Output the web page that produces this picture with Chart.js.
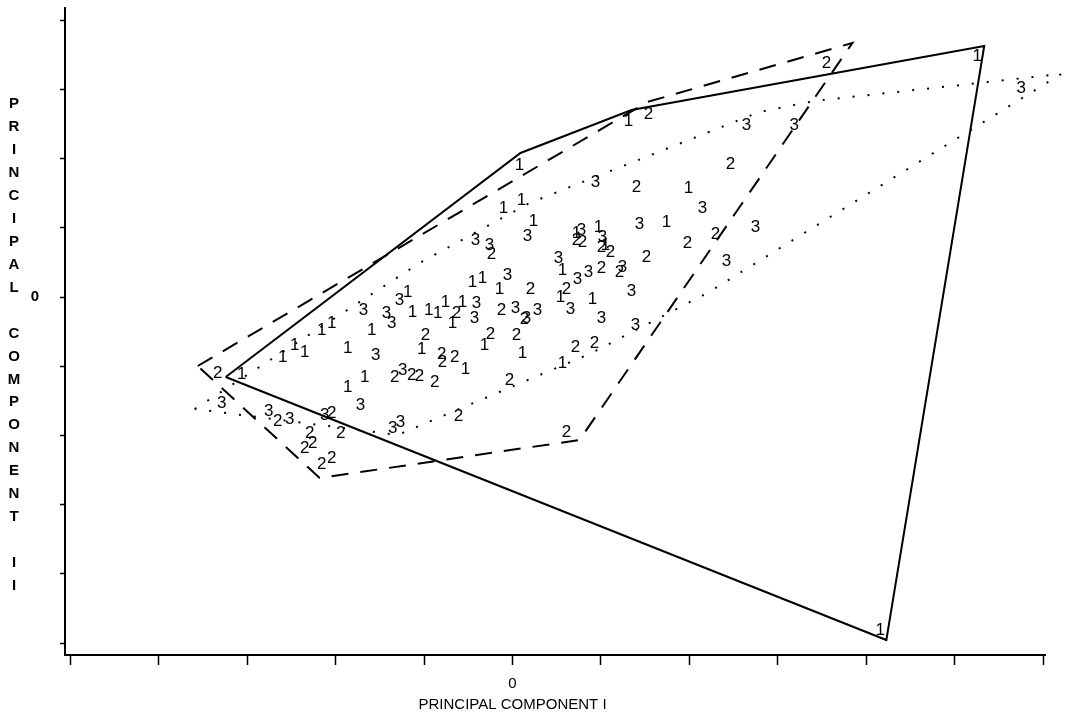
<!DOCTYPE html>
<html>
<head>
<meta charset="utf-8">
<script src="https://cdn.jsdelivr.net/npm/chart.js@4.4.1/dist/chart.umd.min.js"></script>
<style>
html,body{margin:0;padding:0;background:#fff;}
#wrap{width:1068px;height:716px;position:relative;}
</style>
</head>
<body>
<div id="wrap"><canvas id="c" width="1068" height="716"></canvas></div>
<script>
// ---- titles / tick labels ----
const xTitle = 'PRINCIPAL COMPONENT I';
const yTitle = 'PRINCIPAL COMPONENT II';
const zeroLabel = '0';
const xRange = [-5.06, 6.02];
const yRange = [-5.173, 4.176];

// ---- group 1 (marker "1") ----
const g1X = [5.254, 4.158, 1.311, 0.079, 1.989, -0.102, 0.102, 0.237, 1.740, 0.723, 0.972, 1.051, 0.565, 0.542, 0.904, -0.452, -0.339, -0.147, -0.757, -0.565, -0.678, -0.316, 0.113, 0.565, -0.531, -1.028, -1.186, -1.130, -0.949, -0.847, -1.593, -1.864, -2.158, -2.045, -2.599, -2.463, -2.350, -1.864, -1.672, -3.062];
const g1Y = [3.483, -4.812, 2.543, 1.908, 1.575, 1.286, 1.402, 1.098, 1.084, 0.925, 1.012, 0.751, 0.390, 0.000, -0.029, 0.217, 0.275, 0.116, -0.072, -0.072, -0.376, -0.694, -0.809, -0.954, -1.040, -0.751, 0.072, -0.217, -0.188, -0.231, -0.477, -0.737, -0.477, -0.376, -0.867, -0.694, -0.795, -1.301, -1.156, -1.113];

// ---- group 2 (marker "2") ----
const g2X = [3.548, 1.537, 2.463, 1.401, 2.294, 1.977, 1.514, 0.723, 0.791, 1.006, 1.107, 1.006, 1.209, 0.610, 0.203, -0.124, 0.136, -0.237, -0.633, -0.249, 0.045, 0.712, 0.927, -0.983, -0.802, -0.791, -0.655, -1.333, -1.141, -1.051, -0.881, -0.034, -0.610, 0.610, -3.333, -2.655, -2.045, -1.944, -2.294, -2.260, -2.350, -2.158, -2.045];
const g2Y = [3.382, 2.645, 1.922, 1.590, 0.910, 0.780, 0.578, 0.824, 0.795, 0.723, 0.650, 0.419, 0.361, 0.116, 0.116, -0.188, -0.318, 0.621, -0.231, -0.535, -0.549, -0.723, -0.665, -0.549, -0.824, -0.939, -0.867, -1.156, -1.127, -1.142, -1.228, -1.199, -1.720, -1.951, -1.098, -1.792, -1.676, -1.965, -1.965, -2.110, -2.182, -2.413, -2.327];

// ---- group 3 (marker "3") ----
const g3X = [5.751, 2.644, 3.186, 0.938, 2.147, 1.435, 2.746, 2.418, 0.780, 1.017, 0.520, 0.734, 0.859, 1.243, 1.345, 0.655, 1.006, 1.390, 0.169, -0.418, -0.260, -0.056, -0.407, -0.429, 0.034, 0.158, 0.282, -1.684, -1.424, -1.367, -1.277, -1.548, -1.243, -1.718, -1.356, -1.266, -3.288, -2.757, -2.520, -2.124];
const g3Y = [3.020, 2.486, 2.486, 1.662, 1.286, 1.055, 1.012, 0.520, 0.968, 0.867, 0.564, 0.260, 0.361, 0.434, 0.087, -0.173, -0.303, -0.405, 0.881, 0.824, 0.751, 0.318, -0.087, -0.303, -0.159, -0.303, -0.188, -0.188, -0.231, -0.376, -0.043, -0.838, -1.055, -1.561, -1.893, -1.806, -1.532, -1.647, -1.763, -1.705];

// ---- convex hull outlines ----
const hull1X = [-3.243, 0.090, 1.345, 5.333, 4.226, -3.243];
const hull1Y = [-1.156, 2.081, 2.702, 3.627, -4.957, -1.156];
const hull2X = [-3.559, 1.525, 3.842, 0.757, -2.181, -3.559];
const hull2Y = [-0.997, 2.818, 3.671, -2.066, -2.616, -0.997];
const hull3X = [-3.593, -1.051, 0.192, 2.791, 3.412, 6.203, 2.203, 0.870, -1.299, -3.593];
const hull3Y = [-1.618, 0.491, 1.358, 2.673, 2.832, 3.223, 0.058, -0.824, -1.994, -1.618];

const zip = (xs, ys) => xs.map((x, i) => ({x: x, y: ys[i]}));

const hullDS = (xs, ys, dash, width) => ({
  type: 'scatter', data: zip(xs, ys), showLine: true, tension: 0,
  borderColor: '#000', borderWidth: width, borderDash: dash,
  borderCapStyle: 'butt', pointRadius: 0, pointHoverRadius: 0, fill: false, clip: false
});
const markDS = (xs, ys, txt) => ({
  type: 'scatter', data: zip(xs, ys), markerText: txt,
  pointRadius: 0, pointHoverRadius: 0, showLine: false, clip: false
});

const markerTextPlugin = {
  id: 'markerText',
  afterDatasetsDraw(chart) {
    const ctx = chart.ctx;
    ctx.save();
    ctx.font = '17px "Liberation Sans", Arial, sans-serif';
    ctx.fillStyle = '#000';
    ctx.textAlign = 'center';
    ctx.textBaseline = 'middle';
    chart.data.datasets.forEach((ds, i) => {
      if (!ds.markerText) return;
      chart.getDatasetMeta(i).data.forEach(pt => ctx.fillText(ds.markerText, pt.x, pt.y));
    });
    ctx.restore();
  }
};

const titlePlugin = {
  id: 'titles',
  afterDraw(chart) {
    const ctx = chart.ctx;
    ctx.save();
    ctx.fillStyle = '#000';
    ctx.textAlign = 'center';
    ctx.textBaseline = 'middle';
    ctx.font = 'bold 15px "Liberation Sans", Arial, sans-serif';
    yTitle.split('').forEach((ch, k) => ctx.fillText(ch, 14, 104 + k * 22.95));
    ctx.font = '15px "Liberation Sans", Arial, sans-serif';
    ctx.fillText(xTitle, chart.scales.x.getPixelForValue(0), 705);
    ctx.restore();
  }
};

new Chart(document.getElementById('c'), {
  type: 'scatter',
  data: {
    datasets: [
      hullDS(hull1X, hull1Y, [], 2),
      hullDS(hull2X, hull2Y, [17, 12], 2),
      hullDS(hull3X, hull3Y, [2, 13], 2),
      markDS(g1X, g1Y, '1'),
      markDS(g2X, g2Y, '2'),
      markDS(g3X, g3Y, '3')
    ]
  },
  options: {
    responsive: false,
    animation: false,
    devicePixelRatio: 1,
    events: [],
    layout: {padding: {left: 0, right: 23, top: 8, bottom: 0}},
    plugins: {legend: {display: false}, tooltip: {enabled: false}},
    scales: {
      x: {
        type: 'linear', position: 'bottom', min: xRange[0], max: xRange[1],
        afterFit(s) { s.height = 61; s.paddingLeft = 0; s.paddingRight = 0; },
        border: {display: true, color: '#000', width: 2},
        grid: {drawOnChartArea: false, drawTicks: true, tickLength: 10, tickColor: '#000', tickWidth: 1.5},
        ticks: {stepSize: 1, includeBounds: false, autoSkip: false, maxRotation: 0, padding: 10,
          color: '#000', font: {family: '"Liberation Sans", Arial, sans-serif', size: 15},
          callback: v => (v === 0 ? zeroLabel : '')}
      },
      y: {
        type: 'linear', position: 'left', min: yRange[0], max: yRange[1],
        afterFit(s) { s.width = 65; s.paddingTop = 0; s.paddingBottom = 0; },
        border: {display: true, color: '#000', width: 2},
        grid: {drawOnChartArea: false, drawTicks: true, tickLength: 5, tickColor: '#000', tickWidth: 1.5},
        ticks: {stepSize: 1, includeBounds: false, autoSkip: false, padding: 21,
          color: '#000', font: {family: '"Liberation Sans", Arial, sans-serif', size: 15, weight: 'bold'},
          callback: v => (v === 0 ? zeroLabel : '')}
      }
    }
  },
  plugins: [markerTextPlugin, titlePlugin]
});
</script>
</body>
</html>
